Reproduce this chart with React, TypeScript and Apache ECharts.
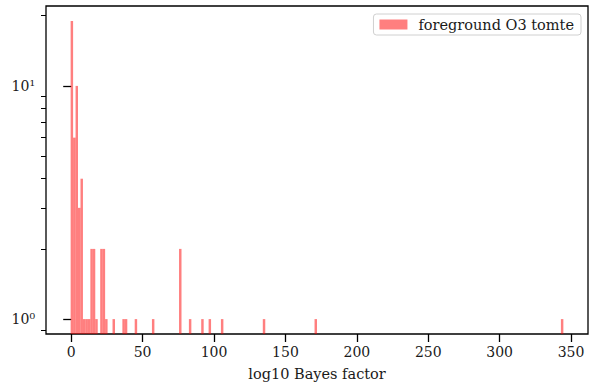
import React, { useEffect, useRef } from "react";
import * as echarts from "echarts";

// Histogram of log10 Bayes factors: 200 equal bins, counts per occupied bin
const binStart = -0.4;
const binWidth = 1.725;
const binTotal = 200;
const binIndex = [0, 1, 2, 3, 4, 5, 6, 7, 8, 9, 10, 12, 13, 14, 17, 21, 22, 26, 33, 44, 48, 53, 56, 61, 78, 99, 199];
const binCount = [19, 6, 10, 3, 4, 1, 1, 1, 2, 2, 1, 2, 2, 1, 1, 1, 1, 1, 1, 2, 1, 1, 1, 1, 1, 1, 1];

const xTicks = [0, 50, 100, 150, 200, 250, 300, 350];
const yMajorTicks = [1, 10];
const yMinorTicks = [0.9, 2, 3, 4, 5, 6, 7, 8, 9, 20];

const seriesName = "foreground O3 tomte";
const xTitle = "log10 Bayes factor";

const FONT = "'DejaVu Serif', serif";
const BAR_COLOR = "rgba(255, 0, 0, 0.5)";
const INK = "#1a1a1a";

export default function App() {
  const ref = useRef<HTMLDivElement>(null);

  useEffect(() => {
    if (!ref.current) return;
    const chart = echarts.init(ref.current, null, { renderer: "svg" });

    const lo = binStart;
    const hi = binStart + binTotal * binWidth;
    const xPad = 0.05 * (hi - lo);
    const logMax = Math.log10(Math.max(...binCount));
    const logMin = 0;
    const yPad = 0.05 * (logMax - logMin);
    const yMin = Math.pow(10, logMin - yPad);
    const yMax = Math.pow(10, logMax + yPad);

    const data = binIndex.map((b, i) => [
      binStart + b * binWidth,
      binStart + (b + 1) * binWidth,
      binCount[i],
    ]);

    const sup = (v: number) => (v === 1 ? "10\u2070" : v === 10 ? "10\u00b9" : "");

    chart.setOption({
      animation: false,
      grid: {
        left: 46,
        right: 1,
        top: 6,
        bottom: 49,
        show: true,
        borderColor: "#000",
        borderWidth: 1.3,
      },
      legend: {
        right: 8,
        top: 14,
        icon: "rect",
        itemWidth: 28,
        itemHeight: 10,
        padding: [3, 7, 3, 6],
        borderColor: "#d0d0d0",
        borderWidth: 1,
        borderRadius: 3,
        textStyle: { fontFamily: FONT, fontSize: 14.5, color: INK, padding: [0, 0, 0, 6] },
        data: [seriesName],
      },
      xAxis: {
        type: "value",
        min: lo - xPad,
        max: hi + xPad,
        name: xTitle,
        nameLocation: "middle",
        nameGap: 32,
        nameTextStyle: { fontFamily: FONT, fontSize: 14.5, color: INK },
        splitLine: { show: false },
        axisLine: { show: false },
        axisTick: { show: true, length: 8, lineStyle: { color: "#000", width: 1.3 }, customValues: xTicks },
        axisLabel: { fontFamily: FONT, fontSize: 14, color: INK, margin: 11, customValues: xTicks },
      },
      yAxis: [
        {
          type: "log",
          min: yMin,
          max: yMax,
          splitLine: { show: false },
          axisLine: { show: false },
          axisTick: { show: true, length: 8, lineStyle: { color: "#000", width: 1.3 }, customValues: yMajorTicks },
          axisLabel: {
            fontFamily: FONT,
            fontSize: 14,
            color: INK,
            margin: 11,
            customValues: yMajorTicks,
            formatter: (v: number) => sup(Math.round(v)),
          },
        },
        {
          type: "log",
          min: yMin,
          max: yMax,
          position: "left",
          splitLine: { show: false },
          axisLine: { show: false },
          axisTick: { show: true, length: 5, lineStyle: { color: "#000", width: 1 }, customValues: yMinorTicks },
          axisLabel: { show: false },
        },
      ],
      series: [
        {
          name: seriesName,
          type: "custom",
          clip: true,
          itemStyle: { color: BAR_COLOR },
          encode: { x: [0, 1], y: 2 },
          data,
          renderItem: (params: any, api: any) => {
            const top = api.coord([api.value(0), api.value(2)]);
            const base = api.coord([api.value(1), yMin]);
            return {
              type: "rect",
              shape: { x: top[0], y: top[1], width: base[0] - top[0], height: base[1] - top[1] },
              style: { fill: BAR_COLOR },
            };
          },
        },
      ],
    });

    return () => chart.dispose();
  }, []);

  return (
    <div
      ref={ref}
      style={{ position: "fixed", left: 0, top: 0, width: 589, height: 386, background: "#fff" }}
    />
  );
}
